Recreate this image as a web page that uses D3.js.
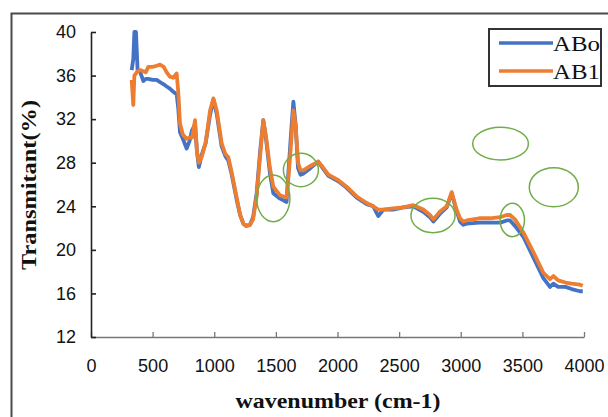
<!DOCTYPE html>
<html>
<head>
<meta charset="utf-8">
<script src="https://cdn.jsdelivr.net/npm/d3@7"></script>
<style>
  body { margin: 0; background: #fff; }
  svg { display: block; }
</style>
</head>
<body>
<div id="chart"></div>
<script>
// values
var wavenumber = [330, 343, 352, 365, 378, 400, 425, 445, 465, 500, 533, 560, 590, 614, 640, 668, 695, 708, 722, 745,
    776, 800, 820, 844, 860, 875, 900, 930, 966, 993, 1020, 1060, 1090, 1114, 1140, 1182, 1210, 1236, 1260, 1290,
    1315, 1344, 1371, 1398, 1420, 1452, 1479, 1534, 1587, 1601, 1625, 1642, 1660, 1680, 1700, 1723, 1780, 1844, 1880, 1926,
    2007, 2074, 2156, 2237, 2290, 2331, 2372, 2450, 2534, 2615, 2696, 2750, 2778, 2830, 2886, 2927, 2960, 2994, 3021, 3048,
    3150, 3237, 3320, 3373, 3400, 3440, 3508, 3589, 3670, 3724, 3751, 3790, 3850, 3900, 3967, 3990];

var ab0 = [36.5, 37.5, 40.0, 40.0, 36.5, 36.3, 35.5, 35.7, 35.7, 35.6, 35.6, 35.4, 35.2, 35.0, 34.8, 34.5, 34.3, 33.0, 30.8, 30.2,
    29.3, 30.0, 31.0, 31.5, 29.0, 27.6, 28.8, 29.8, 32.4, 33.8, 32.5, 29.5, 28.6, 28.2, 27.0, 24.6, 23.2, 22.4, 22.2, 22.3,
    23.0, 25.2, 28.9, 31.9, 30.2, 27.0, 25.2, 24.7, 24.4, 27.0, 31.0, 33.6, 31.5, 27.5, 26.9, 27.0, 27.5, 28.1, 27.5, 26.8,
    26.3, 25.7, 24.8, 24.2, 24.0, 23.1, 23.7, 23.7, 23.9, 24.0, 23.5, 23.0, 22.6, 23.3, 23.9, 25.2, 23.8, 22.6, 22.3, 22.4,
    22.5, 22.5, 22.5, 22.7, 22.7, 22.2, 21.2, 19.3, 17.4, 16.6, 16.9, 16.6, 16.6, 16.4, 16.2, 16.2];

var ab1 = [35.6, 33.3, 36.0, 36.2, 36.4, 36.5, 36.4, 36.3, 36.8, 36.8, 36.9, 37.0, 36.8, 36.3, 35.9, 35.8, 36.2, 34.5, 31.6, 30.6,
    30.2, 30.3, 30.3, 31.9, 29.0, 28.0, 28.6, 29.8, 32.8, 33.9, 32.8, 29.8, 28.8, 28.5, 27.2, 24.8, 23.2, 22.4, 22.2, 22.3,
    22.8, 24.9, 28.5, 31.9, 30.4, 27.5, 25.8, 25.0, 24.8, 26.5, 30.0, 32.8, 31.5, 28.0, 27.3, 27.3, 27.7, 28.1, 27.6, 26.9,
    26.4, 25.8, 24.9, 24.3, 24.0, 23.7, 23.7, 23.8, 23.9, 24.1, 23.7, 23.2, 22.8, 23.5, 24.0, 25.3, 23.9, 22.9, 22.6, 22.7,
    22.9, 22.9, 23.0, 23.2, 23.2, 22.8, 21.6, 19.8, 17.9, 17.3, 17.6, 17.2, 17.0, 16.9, 16.8, 16.7];

var seriesNames = ["ABo", "AB1"];
var xTicks = [0, 500, 1000, 1500, 2000, 2500, 3000, 3500, 4000];
var yTicks = [12, 16, 20, 24, 28, 32, 36, 40];

// hand-drawn green rings: centre (wavenumber, %T) and radii in the same units
var ringWn = [1479, 1703, 3323, 3755, 2775, 3418];
var ringT  = [24.73, 27.33, 29.75, 25.75, 23.15, 22.74];
var ringRw = [135, 142, 226, 199, 179, 99];
var ringRt = [2.14, 1.53, 1.50, 1.79, 1.58, 1.53];

var W = 608, H = 417;
var colors = ["#4472C4", "#ED7D31"];

var svg = d3.select("#chart").append("svg")
    .attr("width", W)
    .attr("height", H);

// outer frame (runs off the right and bottom of the picture)
svg.append("rect")
    .attr("x", 11.5).attr("y", 13.5)
    .attr("width", 640).attr("height", 440)
    .attr("fill", "none")
    .attr("stroke", "#4a4a4a")
    .attr("stroke-width", 2);

var x = d3.scaleLinear().domain([0, 4000]).range([91, 584]);
var y = d3.scaleLinear().domain([12, 40]).range([337, 32]);

// axes, ticks pointing inward
var xAxis = svg.append("g")
    .attr("transform", "translate(0," + y(12) + ")")
    .call(d3.axisBottom(x).tickValues(xTicks).tickFormat(d3.format("d"))
        .tickSize(-5).tickSizeOuter(0).tickPadding(22));
xAxis.select(".domain").attr("stroke", "#777").attr("stroke-width", 1.3);
xAxis.selectAll(".tick line").attr("stroke", "#777").attr("stroke-width", 1.3);

var yAxis = svg.append("g")
    .attr("transform", "translate(" + x(0) + ",0)")
    .call(d3.axisLeft(y).tickValues(yTicks).tickFormat(d3.format("d"))
        .tickSize(-5).tickSizeOuter(0).tickPadding(15));
yAxis.select(".domain").attr("stroke", "#222").attr("stroke-width", 1.6);
yAxis.selectAll(".tick line").attr("stroke", "#222").attr("stroke-width", 1.6);

svg.selectAll(".tick text")
    .attr("font-family", "'Liberation Sans', Arial, sans-serif")
    .attr("font-size", 18)
    .attr("fill", "#111");

// spectra
var rows = wavenumber.map(function (w, i) { return {w: w, v: [ab0[i], ab1[i]]}; });
[0, 1].forEach(function (k) {
    var line = d3.line()
        .x(function (d) { return x(d.w); })
        .y(function (d) { return y(d.v[k]); });
    svg.append("path")
        .datum(rows)
        .attr("d", line)
        .attr("fill", "none")
        .attr("stroke", colors[k])
        .attr("stroke-width", 3.8)
        .attr("stroke-linejoin", "round");
});

// green annotation rings
svg.selectAll(".ring")
    .data(ringWn)
    .enter().append("ellipse")
    .attr("class", "ring")
    .attr("cx", function (d) { return x(d); })
    .attr("cy", function (d, i) { return y(ringT[i]); })
    .attr("rx", function (d, i) { return x(ringRw[i]) - x(0); })
    .attr("ry", function (d, i) { return y(12) - y(12 + ringRt[i]); })
    .attr("fill", "none")
    .attr("stroke", "#70AD47")
    .attr("stroke-width", 1.5);

// legend
var legend = svg.append("g");
legend.append("rect")
    .attr("x", 489).attr("y", 29)
    .attr("width", 112).attr("height", 57)
    .attr("fill", "#fff")
    .attr("stroke", "#333")
    .attr("stroke-width", 2);
seriesNames.forEach(function (name, k) {
    var ly = 43 + k * 28;
    legend.append("line")
        .attr("x1", 499).attr("x2", 553)
        .attr("y1", ly).attr("y2", ly)
        .attr("stroke", colors[k])
        .attr("stroke-width", 3.6);
    legend.append("text")
        .attr("x", 553).attr("y", ly + 7.5)
        .attr("font-family", "'Liberation Serif', 'Times New Roman', serif")
        .attr("font-size", 21)
        .attr("textLength", 47)
        .attr("lengthAdjust", "spacingAndGlyphs")
        .attr("fill", "#111")
        .text(name);
});

// axis titles
svg.append("text")
    .attr("x", 338).attr("y", 408)
    .attr("text-anchor", "middle")
    .attr("font-family", "'Liberation Serif', 'Times New Roman', serif")
    .attr("font-weight", "bold")
    .attr("font-size", 22)
    .attr("textLength", 205)
    .attr("lengthAdjust", "spacingAndGlyphs")
    .attr("fill", "#111")
    .text("wavenumber (cm-1)");

svg.append("text")
    .attr("transform", "translate(36,185) rotate(-90)")
    .attr("text-anchor", "middle")
    .attr("font-family", "'Liberation Serif', 'Times New Roman', serif")
    .attr("font-weight", "bold")
    .attr("font-size", 22)
    .attr("textLength", 170)
    .attr("lengthAdjust", "spacingAndGlyphs")
    .attr("fill", "#111")
    .text("Transmitant(%)");
</script>
</body>
</html>
